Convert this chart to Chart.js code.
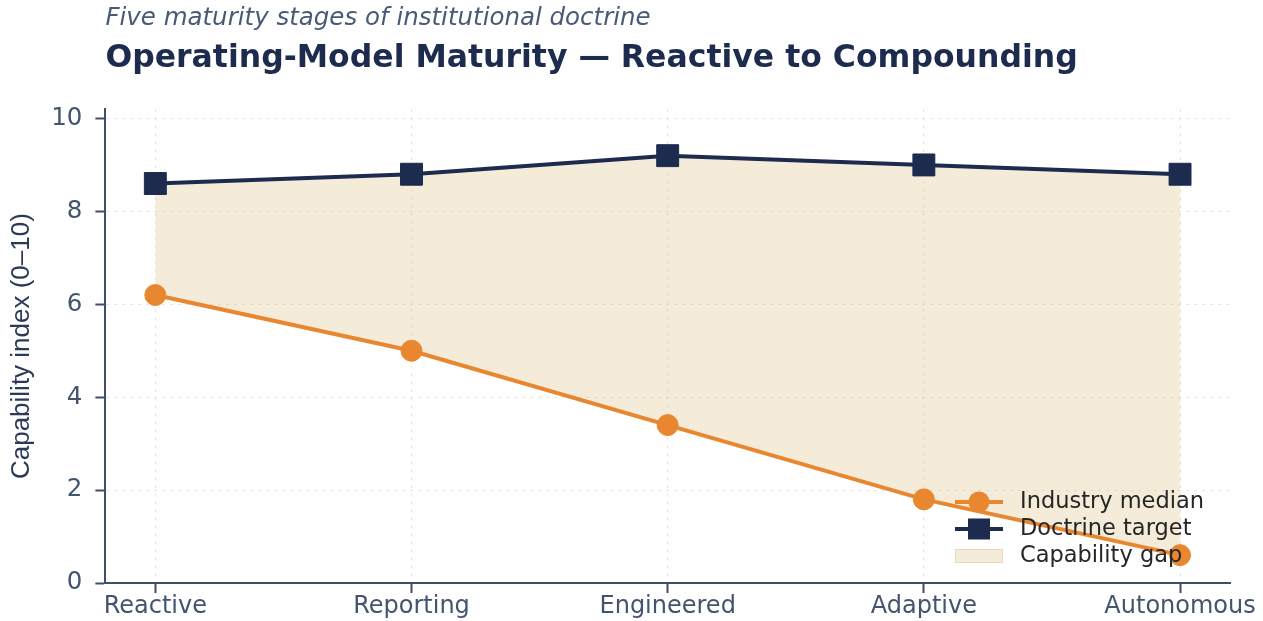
<!DOCTYPE html>
<html>
<head>
<meta charset="utf-8">
<title>Operating-Model Maturity</title>
<script src="https://cdn.jsdelivr.net/npm/chart.js@4.4.1/dist/chart.umd.min.js"></script>
<style>
  html, body { margin: 0; padding: 0; background: #ffffff; }
  .wrap { width: 1263px; height: 621px; }
</style>
</head>
<body>
<div class="wrap"><canvas id="maturityChart"></canvas></div>
<script>
const stages = ['Reactive', 'Reporting', 'Engineered', 'Adaptive', 'Autonomous'];
const industryMedian = [6.2, 5.0, 3.4, 1.8, 0.6];
const doctrineTarget = [8.6, 8.8, 9.2, 9.0, 8.8];
const yTicks = [0, 2, 4, 6, 8, 10];

const NAVY = '#1d2b4f';
const ORANGE = '#e8872f';
const GAP_FILL = 'rgba(222, 194, 138, 0.33)';
const AXIS = '#3f4f6b';
const TICK_TEXT = '#44546e';

Chart.defaults.font.family = "'DejaVu Sans', sans-serif";

const toPoints = (values) => values.map((v, i) => ({ x: i, y: v }));

// legend drawn inside the plot, bottom-right, matplotlib style
const insideLegend = {
    id: 'insideLegend',
    afterDraw(chart) {
        const { ctx, chartArea } = chart;
        const x0 = chartArea.right - 275;
        const yLast = chartArea.bottom - 27;
        const rowH = 27;
        const items = [
            { label: chart.data.datasets[0].label, kind: 'circle', color: ORANGE },
            { label: chart.data.datasets[1].label, kind: 'rect', color: NAVY },
            { label: 'Capability gap', kind: 'patch', color: GAP_FILL }
        ];
        ctx.save();
        items.forEach((item, i) => {
            const y = yLast - (items.length - 1 - i) * rowH;
            if (item.kind === 'patch') {
                ctx.fillStyle = item.color;
                ctx.fillRect(x0, y - 7, 48, 14);
                ctx.strokeStyle = 'rgba(222, 194, 138, 0.45)';
                ctx.lineWidth = 1;
                ctx.strokeRect(x0 + 0.5, y - 6.5, 47, 13);
            } else {
                ctx.strokeStyle = item.color;
                ctx.lineWidth = 4;
                ctx.beginPath();
                ctx.moveTo(x0, y);
                ctx.lineTo(x0 + 48, y);
                ctx.stroke();
                ctx.fillStyle = item.color;
                if (item.kind === 'circle') {
                    ctx.beginPath();
                    ctx.arc(x0 + 24, y, 10.5, 0, Math.PI * 2);
                    ctx.fill();
                } else {
                    ctx.fillRect(x0 + 24 - 11, y - 10.5, 22, 21);
                }
            }
            ctx.fillStyle = '#262626';
            ctx.font = "22.5px 'DejaVu Sans', sans-serif";
            ctx.textBaseline = 'middle';
            ctx.textAlign = 'left';
            ctx.fillText(item.label, x0 + 65, y);
        });
        ctx.restore();
    }
};

const ctx = document.getElementById('maturityChart').getContext('2d');

new Chart(ctx, {
    type: 'line',
    data: {
        datasets: [
            {
                label: 'Industry median',
                data: toPoints(industryMedian),
                borderColor: ORANGE,
                backgroundColor: ORANGE,
                borderWidth: 4,
                pointStyle: 'circle',
                pointRadius: 10.5,
                pointBorderWidth: 1,
                pointBackgroundColor: ORANGE,
                pointBorderColor: ORANGE,
                fill: false,
                tension: 0
            },
            {
                label: 'Doctrine target',
                data: toPoints(doctrineTarget),
                borderColor: NAVY,
                borderWidth: 4,
                pointStyle: 'rect',
                pointRadius: 15.5,
                pointBorderWidth: 1,
                pointBackgroundColor: NAVY,
                pointBorderColor: NAVY,
                fill: { target: 0 },
                backgroundColor: GAP_FILL,
                tension: 0
            }
        ]
    },
    options: {
        responsive: true,
        maintainAspectRatio: false,
        animation: false,
        events: [],
        layout: {
            padding: { left: 0, right: 33, top: 0, bottom: 0 }
        },
        plugins: {
            legend: { display: false },
            tooltip: { enabled: false },
            title: {
                display: true,
                text: 'Five maturity stages of institutional doctrine',
                align: 'start',
                fullSize: false,
                color: '#4a5a75',
                font: { size: 24.5, style: 'italic', weight: 'normal' },
                padding: { top: 4, bottom: 7 }
            },
            subtitle: {
                display: true,
                text: 'Operating-Model Maturity \u2014 Reactive to Compounding',
                align: 'start',
                fullSize: false,
                color: NAVY,
                font: { size: 31.5, weight: 'bold' },
                padding: { top: 0, bottom: 31 }
            }
        },
        scales: {
            x: {
                type: 'linear',
                min: -0.195,
                max: 4.195,
                afterBuildTicks: (scale) => {
                    scale.ticks = stages.map((_, i) => ({ value: i }));
                },
                border: { display: true, color: AXIS, width: 2, dash: [3, 5] },
                grid: {
                    color: '#e4e4e4',
                    lineWidth: 1,
                    tickColor: AXIS,
                    tickWidth: 2,
                    tickLength: 10,
                    tickBorderDash: []
                },
                ticks: {
                    color: TICK_TEXT,
                    font: { size: 24, lineHeight: 1.0 },
                    padding: 2,
                    maxRotation: 0,
                    autoSkip: false,
                    callback: (value) => stages[value] ?? ''
                }
            },
            y: {
                min: 0,
                max: 10.2,
                afterBuildTicks: (scale) => {
                    scale.ticks = yTicks.map((v) => ({ value: v }));
                },
                border: { display: true, color: AXIS, width: 2, dash: [3, 5] },
                grid: {
                    color: '#e4e4e4',
                    lineWidth: 1,
                    tickColor: AXIS,
                    tickWidth: 2,
                    tickLength: 10,
                    tickBorderDash: []
                },
                ticks: {
                    color: TICK_TEXT,
                    font: { size: 24.5 },
                    padding: 13
                },
                title: {
                    display: true,
                    text: 'Capability index (0\u201310)',
                    color: '#2b3a57',
                    font: { family: "'Liberation Sans', sans-serif", size: 26 },
                    padding: { top: 6, bottom: 1 }
                }
            }
        }
    },
    plugins: [insideLegend]
});
</script>
</body>
</html>
